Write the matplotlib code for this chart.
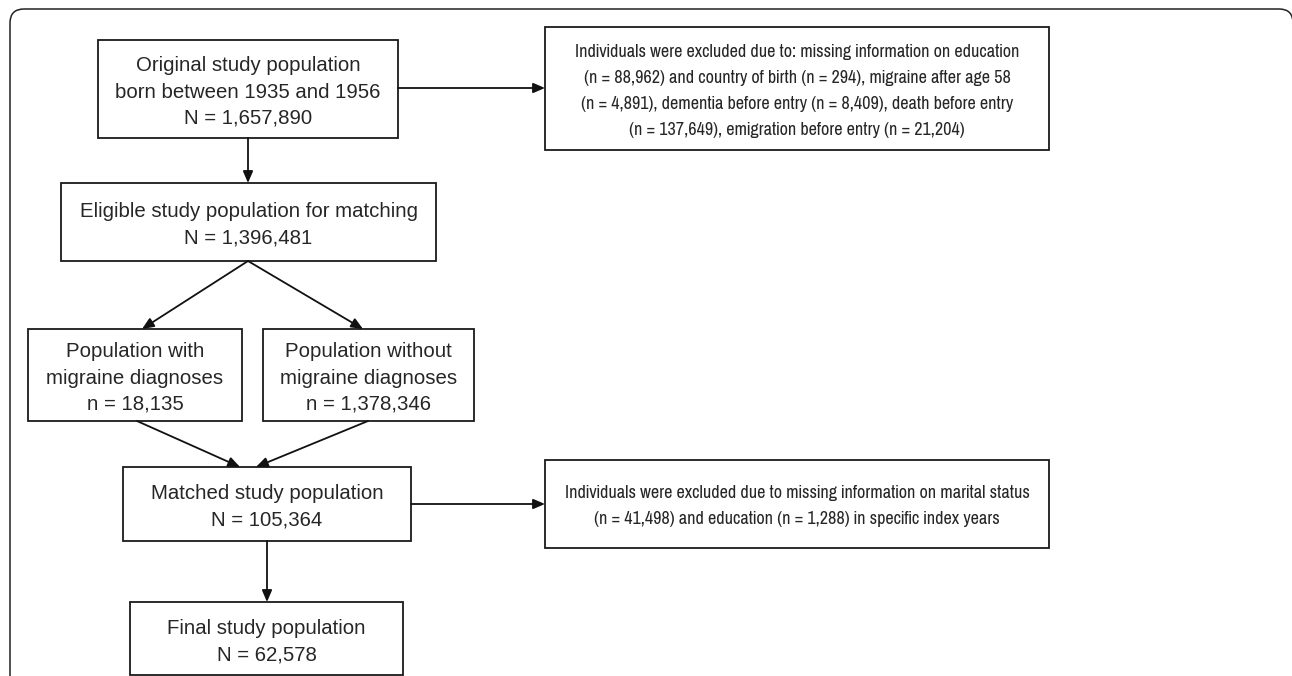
import matplotlib
matplotlib.use("Agg")
import matplotlib.pyplot as plt
from matplotlib.patches import Rectangle, FancyBboxPatch
from matplotlib import font_manager

# flowchart text
box_titles = [
    "Original study population\nborn between 1935 and 1956",
    "Eligible study population for matching",
    "Population with\nmigraine diagnoses",
    "Population without\nmigraine diagnoses",
    "Matched study population",
    "Final study population",
]
box_counts = ["N = 1,657,890", "N = 1,396,481", "n = 18,135",
              "n = 1,378,346", "N = 105,364", "N = 62,578"]

excl_text = [
    "Individuals were excluded due to: missing information on education\n"
    "(n = 88,962) and country of birth (n = 294), migraine after age 58\n"
    "(n = 4,891), dementia before entry (n = 8,409), death before entry\n"
    "(n = 137,649), emigration before entry (n = 21,204)",
    "Individuals were excluded due to missing information on marital status\n"
    "(n = 41,498) and education (n = 1,288) in specific index years",
]

# layout in pixels (x0, y0, x1, y1)
main_pos = [(98, 40, 398, 138), (61, 183, 436, 261), (28, 329, 242, 421),
            (263, 329, 474, 421), (123, 467, 411, 541), (130, 602, 403, 675)]
excl_pos = [(545, 27, 1049, 150), (545, 460, 1049, 548)]

# narrow font for the exclusion boxes (size picked per font)
names = {f.name for f in font_manager.fontManager.ttflist}
narrow_opts = [("Pragati Narrow", 14.2), ("Archivo Narrow", 13.0), ("Liberation Sans", 11.4)]
narrow, narrow_fs = [o for o in narrow_opts if o[0] in names][0]
main_fam, main_fs = "Liberation Sans", 14.7

fig = plt.figure(figsize=(12.92, 6.76), dpi=100)
ax = fig.add_axes([0, 0, 1, 1])
ax.set_xlim(0, 1292)
ax.set_ylim(676, 0)
ax.axis("off")

# outer rounded frame
frame = FancyBboxPatch((10, 9), 1283, 720, boxstyle="round,pad=0,rounding_size=14",
                       fill=False, ec="#222222", lw=1.1)
ax.add_patch(frame)

def draw_box(pos, text, fam, fs, step, cap, shift=0):
    x0, y0, x1, y1 = pos
    ax.add_patch(Rectangle((x0, y0), x1 - x0, y1 - y0, fill=False,
                           ec="#1a1a1a", lw=1.3))
    lines = text.split("\n")
    yc = (y0 + y1) / 2 + shift
    for i, ln in enumerate(lines):
        yb = yc + (i - (len(lines) - 1) / 2) * step + cap / 2
        ax.text((x0 + x1) / 2, yb, ln, ha="center", va="baseline",
                fontsize=fs, family=fam, color="#262626")

for pos, t, c in zip(main_pos, box_titles, box_counts):
    draw_box(pos, t + "\n" + c, main_fam, main_fs, 26.5, 15, shift=1)
for pos, t in zip(excl_pos, excl_text):
    draw_box(pos, t, narrow, narrow_fs, 26, 14)

def arrow(x0, y0, x1, y1):
    ax.annotate("", xy=(x1, y1), xytext=(x0, y0),
                arrowprops=dict(arrowstyle="-|>,head_length=0.7,head_width=0.3",
                                color="#111111", lw=1.3, shrinkA=0, shrinkB=0))

# main flow
arrow(248, 138, 248, 183)
arrow(248, 261, 142, 329)
arrow(248, 261, 363, 329)
arrow(137, 421, 240, 467)
arrow(368, 421, 256, 467)
arrow(267, 541, 267, 602)
# exclusions
arrow(398, 88, 545, 88)
arrow(411, 504, 545, 504)

fig.savefig("out.png", dpi=100)
